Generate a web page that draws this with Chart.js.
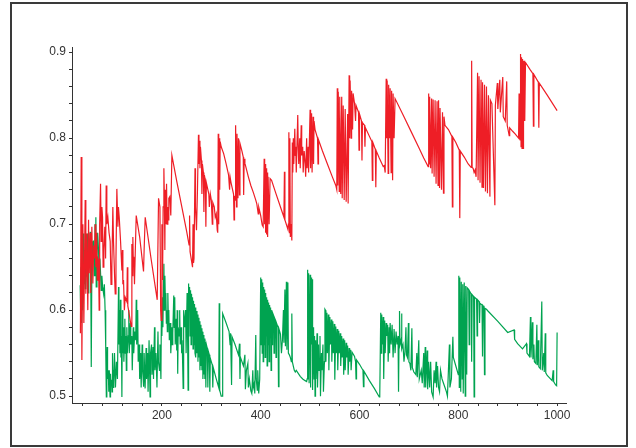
<!DOCTYPE html>
<html>
<head>
<meta charset="utf-8">
<script src="https://cdn.jsdelivr.net/npm/chart.js@4.4.1/dist/chart.umd.min.js"></script>
<style>
  body { margin: 0; background: #fff; }
  canvas { display: block; }
</style>
</head>
<body>
<canvas id="myChart" width="636" height="448"></canvas>
<script>
// red series [x, y]
var redPts = [
  [35,0.573],[36.6,0.778],[38,0.542],[40,0.70],[42,0.585],[44.7,0.728],[46,0.619],[48,0.689],[50,0.60],
  [51.5,0.705],[52.8,0.643],[54.8,0.69],[56,0.62],[58.2,0.697],[60.2,0.631],[62,0.675],[63.6,0.66],[65,0.70],
  [66.3,0.65],[68,0.69],[69,0.635],[70.5,0.66],[71.7,0.658],[73,0.60],[74,0.70],[75.8,0.747],[77.1,0.68],
  [78.5,0.72],[79.8,0.708],[81,0.65],[82.5,0.67],[84.5,0.697],[86,0.66],[87.2,0.745],[88.5,0.70],[90.6,0.708],
  [93,0.69],[95.3,0.68],[97,0.63],[98.7,0.65],[100.7,0.72],[102,0.68],[104,0.643],[105.5,0.619],[107,0.66],
  [108.8,0.741],[110.9,0.697],[112,0.72],[113.6,0.708],[116.3,0.68],[119,0.646],[120,0.67],[121,0.63],
  [122.3,0.635],[124,0.60],[125.7,0.615],[129,0.61],[130,0.65],[131,0.605],[132.5,0.60],[135.8,0.588],
  [137.9,0.581],[139.2,0.677],[140,0.64],[141.2,0.685],[142,0.66],[143.2,0.662],[144.5,0.63],[146,0.666],
  [148,0.710],[155,0.685],[162.8,0.645],[164,0.67],[166.2,0.708],[178,0.66],[190.5,0.612],[193.2,0.730],
  [196,0.720],[197.5,0.60],[198.6,0.588],[200,0.70],[201.3,0.635],[202.5,0.72],[204,0.765],[205,0.73],
  [206,0.67],[206.7,0.74],[208,0.70],[209.4,0.747],[210.5,0.70],[212,0.72],[213,0.705],[214,0.73],[216,0.732],
  [218,0.71],[220.2,0.780],[230,0.750],[240,0.721],[250,0.692],[255,0.676],[256,0.71],[257,0.668],[262,0.650],
  [263,0.70],[264,0.655],[265,0.66],[267,0.765],[268,0.72],[270,0.693],[272,0.74],[274,0.804],[275,0.77],
  [276,0.797],[277,0.765],[278,0.79],[280,0.774],[281,0.735],[282,0.77],[284,0.76],[285,0.714],[286,0.757],
  [288,0.75],[289,0.697],[290,0.748],[293,0.74],[295,0.735],[296,0.72],[298,0.735],[300,0.728],[302,0.70],
  [303,0.725],[306,0.72],[308,0.708],[310,0.712],[312,0.693],[313,0.69],[314,0.805],[315,0.70],[316,0.80],
  [317,0.74],[318,0.796],[320,0.79],[325,0.782],[330,0.77],[335,0.757],[337,0.74],[338,0.755],[340,0.748],
  [345,0.735],[346,0.705],[347,0.733],[348,0.728],[349.2,0.815],[351,0.72],[352,0.805],[354,0.73],[355,0.80],
  [357,0.734],[358,0.794],[362,0.785],[364.7,0.778],[365.5,0.734],[366.5,0.776],[368,0.771],[375,0.755],
  [380,0.745],[385,0.737],[390,0.728],[392,0.724],[395,0.712],[396,0.72],[400,0.71],[403,0.699],[405,0.697],
  [407,0.776],[408,0.70],[409,0.77],[410,0.69],[411,0.765],[412,0.688],[413,0.76],[414,0.685],[415,0.755],
  [417,0.70],[419,0.753],[422,0.751],[430,0.737],[440,0.720],[447,0.708],[448,0.761],[449,0.705],[455,0.694],
  [456,0.70],[457,0.807],[458,0.69],[459,0.80],[460,0.685],[462,0.70],[463,0.681],[464,0.795],[465,0.76],
  [466,0.80],[467,0.77],[469,0.811],[470,0.78],[471,0.79],[472,0.76],[475,0.827],[476,0.79],[477,0.77],
  [479,0.80],[480,0.765],[482,0.815],[483,0.78],[485,0.79],[486,0.76],[488,0.785],[490,0.77],[491,0.755],
  [493,0.80],[494,0.765],[496,0.79],[497,0.76],[500,0.833],[501,0.765],[503,0.829],[504,0.76],[506,0.825],
  [507,0.77],[508,0.82],[510,0.81],[515,0.80],[516,0.77],[517,0.798],[525,0.785],[535,0.77],[545,0.755],
  [552,0.745],[554,0.74],[555,0.858],[556,0.745],[557,0.854],[559,0.738],[560,0.848],[562,0.735],[564,0.848],
  [565,0.73],[567,0.838],[569,0.728],[571,0.834],[573,0.726],[576,0.828],[577,0.724],[579,0.873],[580,0.80],
  [581,0.867],[583,0.80],[584,0.855],[586,0.81],[587,0.852],[590,0.84],[592,0.82],[593,0.838],[598,0.83],
  [599,0.786],[600,0.828],[604,0.82],[605,0.774],[606,0.818],[610,0.815],[611,0.79],[612,0.812],[625,0.796],
  [626,0.751],[627,0.795],[632,0.787],[633,0.743],[634,0.785],[640,0.777],[648,0.767],[650,0.768],[652,0.76],
  [654,0.869],[655,0.80],[656,0.867],[658,0.759],[659,0.862],[661,0.80],[662,0.858],[664,0.76],[665,0.855],
  [667,0.751],[668,0.852],[670,0.80],[672,0.846],[690,0.825],[705,0.807],[720,0.789],[730,0.777],[739,0.767],
  [740,0.852],[741,0.77],[742,0.848],[744,0.765],[746,0.846],[747,0.759],[749,0.845],[751,0.755],[753,0.844],
  [755,0.747],[757,0.843],[759,0.745],[760,0.844],[762,0.742],[763,0.835],[766,0.74],[768,0.83],[770,0.736],
  [771,0.825],[773,0.815],[780,0.81],[787,0.802],[788,0.72],[789,0.801],[795,0.795],[802,0.786],[803,0.707],
  [804,0.785],[812,0.778],[820,0.77],[826,0.766],[827,0.89],[828,0.766],[830,0.765],[832,0.76],[834,0.763],
  [836,0.755],[839,0.876],[840,0.751],[842,0.872],[844,0.748],[846,0.868],[848,0.743],[849,0.865],[851,0.742],
  [853,0.862],[855,0.738],[857,0.86],[859,0.736],[861,0.85],[864,0.732],[865,0.844],[868,0.84],[874,0.722],
  [875,0.838],[879,0.864],[880,0.834],[884,0.868],[885,0.83],[890,0.871],[891,0.825],[895,0.82],[898,0.866],
  [899,0.815],[903,0.803],[904,0.812],[910,0.808],[915,0.805],[922,0.80],[923,0.852],[924,0.80],[925,0.798],
  [926,0.898],[927,0.79],[928,0.894],[929,0.788],[930,0.892],[931,0.788],[932,0.89],[933,0.85],[934,0.89],
  [935,0.82],[936,0.888],[945,0.880],[951,0.875],[952,0.814],[953,0.874],[962,0.865],[963,0.812],[964,0.864],
  [980,0.850],[1000,0.832]
];

// green series [x, y]
var greenPts = [
  [34.5,0.629],[35.5,0.60],[36.5,0.65],[37.5,0.585],[38.5,0.66],[39.5,0.60],[40.5,0.689],[42,0.63],[43,0.67],
  [44.7,0.625],[46,0.66],[47.5,0.639],[49,0.689],[50.5,0.62],[52,0.68],[53.5,0.65],[54.8,0.691],[56,0.64],
  [57,0.534],[58.5,0.68],[60,0.66],[61.5,0.681],[63,0.64],[64.5,0.70],[65.5,0.66],[66.3,0.708],[67,0.627],
  [68.5,0.66],[70,0.69],[71.7,0.670],[73,0.64],[74.5,0.66],[75.8,0.643],[77,0.623],[78.5,0.64],[80,0.627],
  [82,0.619],[83.5,0.63],[85,0.60],[86,0.57],[86.5,0.557],[87.5,0.499],[88.5,0.54],[89,0.557],[90,0.52],
  [91.5,0.530],[92.5,0.505],[93.5,0.53],[95,0.499],[96,0.526],[97,0.512],[98,0.519],[99,0.505],[100,0.55],
  [101,0.51],[102,0.53],[103,0.515],[104,0.55],[106,0.51],[108,0.54],[110,0.52],[112.2,0.627],[113,0.56],
  [114,0.60],[115,0.55],[116,0.612],[117,0.545],[118,0.57],[119,0.499],[120,0.60],[121,0.55],[122,0.58],
  [123,0.54],[124,0.56],[125,0.59],[126,0.55],[127,0.57],[128,0.53],[129,0.58],[130,0.55],[132,0.57],
  [133,0.60],[134,0.55],[136,0.585],[137,0.56],[139,0.57],[140,0.53],[142,0.58],[143,0.55],[145,0.575],
  [147,0.565],[148,0.612],[149,0.56],[151,0.60],[152,0.54],[154,0.56],[155,0.52],[157,0.55],[158,0.51],
  [160,0.56],[161,0.53],[163,0.511],[164,0.55],[166,0.509],[168,0.556],[169,0.52],[171,0.55],[172,0.505],
  [174,0.565],[176,0.499],[177,0.55],[179,0.56],[180,0.525],[182,0.557],[183,0.52],[185,0.58],[186,0.53],
  [188,0.55],[190,0.51],[192,0.575],[193,0.54],[195,0.53],[196,0.56],[198,0.52],[199,0.60],[200,0.57],
  [201,0.615],[202,0.58],[204,0.654],[205,0.60],[206,0.64],[207,0.612],[208,0.62],[209,0.585],[210,0.60],
  [211,0.575],[212,0.62],[213,0.59],[214,0.60],[215,0.565],[217,0.585],[218,0.55],[220,0.58],[221,0.56],
  [222,0.573],[224,0.617],[225,0.58],[226,0.615],[227,0.56],[229,0.59],[230,0.553],[231,0.60],[232,0.526],
  [233,0.58],[235,0.57],[236,0.60],[237,0.56],[239,0.58],[240,0.55],[241,0.565],[243,0.509],[244,0.60],
  [246,0.58],[248,0.60],[249,0.55],[251,0.62],[252,0.57],[253,0.507],[254,0.631],[255,0.60],[256,0.627],
  [257,0.57],[258,0.623],[259,0.56],[260,0.619],[261,0.57],[262,0.615],[263,0.555],[264,0.611],[265,0.56],
  [266,0.607],[267,0.55],[268,0.603],[269,0.545],[270,0.599],[271,0.55],[272,0.595],[273,0.54],[274,0.591],
  [275,0.545],[276,0.587],[277,0.53],[278,0.583],[279,0.535],[280,0.579],[281,0.53],[282,0.575],[283,0.52],
  [284,0.571],[285,0.525],[286,0.567],[287,0.52],[288,0.563],[289,0.51],[290,0.56],[292,0.555],[293,0.51],
  [294,0.552],[296,0.548],[297,0.505],[298,0.544],[300,0.54],[302,0.536],[303,0.51],[304,0.533],[310,0.52],
  [315,0.51],[316,0.608],[317,0.507],[320,0.50],[322,0.50],[323,0.596],[330,0.585],[336,0.575],[338,0.56],
  [339,0.573],[341,0.513],[342,0.569],[348,0.56],[355,0.548],[357,0.561],[358,0.52],[359,0.545],[365,0.535],
  [368,0.548],[369,0.508],[371,0.53],[374,0.538],[375,0.51],[377,0.52],[380,0.506],[382,0.503],[384,0.53],
  [385,0.51],[387,0.515],[388,0.503],[390,0.571],[391,0.52],[393,0.507],[394,0.53],[396,0.503],[398,0.52],
  [400,0.638],[401,0.56],[402,0.636],[403,0.55],[404,0.632],[405,0.54],[406,0.627],[407,0.56],[408,0.624],
  [409,0.545],[410,0.62],[411,0.57],[412,0.615],[413,0.535],[414,0.612],[415,0.56],[416,0.609],[417,0.54],
  [418,0.606],[419,0.58],[420,0.603],[421,0.53],[422,0.60],[423,0.56],[424,0.597],[426,0.594],[427,0.55],
  [428,0.591],[430,0.588],[431,0.545],[432,0.585],[435,0.58],[436,0.511],[437,0.578],[440,0.572],[442,0.55],
  [444,0.566],[446,0.60],[447,0.562],[449,0.624],[450,0.558],[452,0.633],[453,0.554],[455,0.632],[456,0.55],
  [458,0.548],[460,0.545],[462,0.54],[463,0.596],[464,0.54],[466,0.535],[468,0.53],[470,0.528],[472,0.53],
  [480,0.523],[485,0.52],[490,0.518],[493,0.517],[494,0.52],[495,0.647],[496,0.52],[497,0.643],[498,0.515],
  [500,0.641],[501,0.51],[502,0.638],[503,0.56],[504,0.636],[505,0.507],[506,0.55],[507,0.58],[508,0.52],
  [509,0.57],[510,0.50],[511,0.565],[512,0.52],[514,0.573],[515,0.51],[517,0.56],[518,0.53],[520,0.57],
  [521,0.50],[523,0.55],[524,0.53],[526,0.56],[527,0.505],[529,0.54],[530,0.601],[531,0.60],[532,0.54],
  [534,0.597],[535,0.55],[537,0.595],[538,0.53],[540,0.592],[541,0.56],[543,0.589],[544,0.54],[546,0.587],
  [547,0.55],[549,0.584],[550,0.519],[552,0.581],[553,0.55],[555,0.578],[556,0.53],[558,0.576],[559,0.55],
  [561,0.573],[562,0.535],[564,0.57],[565,0.545],[567,0.567],[568,0.525],[570,0.565],[571,0.53],[573,0.562],
  [574,0.545],[576,0.559],[577,0.525],[579,0.556],[580,0.54],[582,0.554],[583,0.53],[585,0.551],[590,0.546],
  [592,0.54],[593,0.52],[594,0.542],[600,0.537],[607,0.53],[608,0.511],[609,0.529],[620,0.518],[630,0.509],
  [640,0.499],[641,0.50],[643,0.597],[644,0.55],[645,0.595],[646,0.56],[648,0.592],[649,0.52],[651,0.588],
  [652,0.55],[654,0.585],[655,0.57],[657,0.583],[658,0.54],[660,0.58],[661,0.55],[662,0.585],[664,0.56],
  [666,0.583],[668,0.545],[670,0.578],[672,0.55],[674,0.575],[676,0.56],[678,0.57],[679,0.505],[680,0.565],
  [681,0.599],[682,0.56],[684,0.565],[685,0.596],[686,0.555],[688,0.56],[690,0.54],[692,0.552],[694,0.58],
  [695,0.548],[697,0.545],[699,0.585],[700,0.54],[702,0.538],[704,0.53],[706,0.579],[707,0.533],[710,0.528],
  [714,0.525],[716,0.55],[717,0.522],[720,0.565],[721,0.52],[725,0.53],[727,0.515],[730,0.55],[731,0.51],
  [733,0.557],[734,0.51],[737,0.553],[738,0.508],[740,0.54],[742,0.51],[744,0.54],[746,0.505],[749,0.499],
  [751,0.53],[753,0.515],[755,0.54],[756,0.51],[758,0.535],[760,0.51],[762,0.505],[764,0.53],[767,0.52],
  [770,0.515],[773,0.51],[776,0.505],[778,0.50],[782,0.56],[783,0.51],[786,0.52],[789,0.569],[790,0.545],
  [795,0.535],[800,0.525],[801,0.64],[802,0.51],[803,0.638],[805,0.505],[806,0.633],[808,0.52],[809,0.63],
  [810,0.503],[812,0.632],[814,0.50],[815,0.628],[817,0.525],[818,0.626],[821,0.624],[822,0.56],[823,0.622],
  [826,0.619],[827,0.54],[828,0.618],[831,0.616],[832,0.499],[833,0.615],[837,0.613],[838,0.57],[839,0.612],
  [842,0.61],[843,0.585],[844,0.608],[848,0.606],[849,0.546],[850,0.605],[852,0.603],[853,0.525],[854,0.602],
  [857,0.601],[860,0.599],[880,0.587],[900,0.574],[913,0.577],
  [914,0.566],[920,0.561],[930,0.555],[938,0.561],[939,0.55],[944,0.546],[946,0.592],[947,0.545],[949,0.57],
  [950,0.586],[951,0.543],[953,0.56],[954,0.54],[957,0.538],[959,0.583],[960,0.536],[962,0.565],[963,0.534],
  [966,0.532],[969,0.61],[970,0.53],[973,0.55],[974,0.528],[976,0.573],[977,0.527],[980,0.524],[990,0.518],
  [992,0.530],[993,0.517],[997,0.513],[999,0.512],[1000,0.574]
];

var xTicks = [40, 80, 120, 160, 200, 240, 280, 320, 360, 400, 440, 480, 520, 560, 600, 640, 680, 720, 760, 800, 840, 880, 920, 960, 1000];
var xLabels = [200, 400, 600, 800, 1000];
var yTicks = [0.5, 0.52, 0.54, 0.56, 0.58, 0.6, 0.62, 0.64, 0.66, 0.68, 0.7, 0.72, 0.74, 0.76, 0.78, 0.8, 0.82, 0.84, 0.86, 0.88, 0.9];
var yLabels = ['0.5', '', '', '', '', '0.6', '', '', '', '', '0.7', '', '', '', '', '0.8', '', '', '', '', '0.9'];

const redColor = 'rgb(238,30,38)'
const greenColor = 'rgb(0,163,80)'
const axisColor = '#333'
const labelFont = { family: 'Liberation Sans, Arial, sans-serif', size: 12 }

const frame = {
    id: 'frame',
    afterDraw(chart) {
        const c = chart.ctx
        c.save()
        c.strokeStyle = '#3a3a3a'
        c.lineWidth = 2
        c.strokeRect(11, 3, 616, 443)
        c.restore()
    }
}

new Chart('myChart', {
    type: 'scatter',
    data: {
        datasets: [{
            data: redPts.map(p => ({ x: p[0], y: p[1] })),
            showLine: true,
            borderColor: redColor,
            borderWidth: 1.2,
            pointRadius: 0,
            tension: 0
        }, {
            data: greenPts.map(p => ({ x: p[0], y: p[1] })),
            showLine: true,
            borderColor: greenColor,
            borderWidth: 1.2,
            pointRadius: 0,
            tension: 0
        }]
    },
    options: {
        responsive: false,
        animation: false,
        layout: { padding: { top: 47, right: 70, left: 0, bottom: 0 } },
        plugins: { legend: { display: false }, tooltip: { enabled: false } },
        scales: {
            x: {
                type: 'linear',
                min: 18,
                max: 1018,
                afterBuildTicks: s => { s.ticks = xTicks.map(v => ({ value: v })) },
                afterFit: s => { s.height = 45 },
                ticks: {
                    autoSkip: false,
                    maxRotation: 0,
                    padding: 2,
                    color: axisColor,
                    font: labelFont,
                    callback: v => xLabels.includes(v) ? String(v) : ''
                },
                grid: { drawOnChartArea: false, tickLength: 3, color: axisColor },
                border: { color: axisColor, width: 1 }
            },
            y: {
                type: 'linear',
                min: 0.492,
                max: 0.906,
                afterBuildTicks: s => { s.ticks = yTicks.map(v => ({ value: v })) },
                afterFit: s => { s.width = 72 },
                ticks: {
                    autoSkip: false,
                    padding: 3,
                    color: axisColor,
                    font: labelFont,
                    callback: (v, i) => yLabels[i]
                },
                grid: { drawOnChartArea: false, tickLength: 3, color: axisColor },
                border: { color: axisColor, width: 1 }
            }
        }
    },
    plugins: [frame]
});
</script>
</body>
</html>
